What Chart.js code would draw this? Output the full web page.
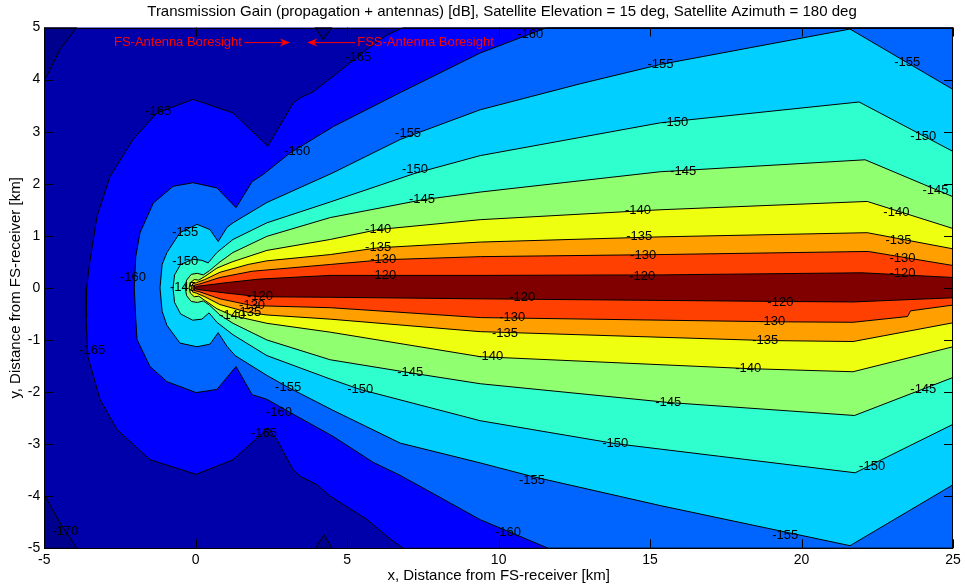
<!doctype html>
<html lang="en">
<head>
<meta charset="utf-8">
<title>Transmission Gain contour</title>
<script src="https://cdn.jsdelivr.net/npm/chart.js@4.4.0/dist/chart.umd.min.js"></script>
<style>
  html, body { margin: 0; padding: 0; background: #fff; }
</style>
</head>
<body>
<canvas id="plot" width="965" height="587"></canvas>
<script>
// contour levels (dB) and the jet-like band colours, lowest band first
const levels = [-165, -160, -155, -150, -145, -140, -135, -130, -120];
const bandColors = ['#00008F', '#0000AA', '#0000FF', '#0064FF', '#00CFFF', '#2FFFCF',
                    '#90FF70', '#EFFF10', '#FFA000', '#FF4000', '#800000'];
const xTickVals = [-5, 0, 5, 10, 15, 20, 25];
const yTickVals = [-5, -4, -3, -2, -1, 0, 1, 2, 3, 4, 5];

// contour lines, [x km, y km], upper and lower branch of each level
const up165 = [[-3.6,0],[-3.52,0.41],[-3.26,1.37],[-2.83,2.14],[-2.07,2.85],[-1.28,3.36],[-0.09,3.62],[1.23,3.36],[2.38,2.72],[3.23,3.56],[3.45,3.65],[3.89,3.77],[4.53,4.06],[5.65,4.58],[6.32,4.86],[6.85,5]];
const lo165 = [[-3.6,0],[-3.62,-0.6],[-3.56,-1.32],[-3.16,-2.14],[-2.6,-2.72],[-1.51,-3.3],[0.01,-3.58],[1.23,-3.3],[2.39,-2.69],[2.68,-2.91],[3.21,-3.49],[3.45,-3.62],[4.0,-3.78],[4.44,-4.0],[5.66,-4.45],[6.42,-4.82],[6.85,-5]];
const up160 = [[-2.03,0],[-1.98,0.6],[-1.84,1.06],[-1.4,1.63],[-0.75,1.95],[-0.09,2.02],[0.7,1.92],[1.33,1.54],[1.86,2.04],[2.23,2.18],[3.11,2.59],[4.55,3.1],[6.75,3.75],[9.39,4.51],[11.6,5]];
const lo160 = [[-2.03,0],[-1.98,-0.6],[-1.94,-0.99],[-1.51,-1.51],[-0.95,-1.8],[0.01,-2.01],[0.7,-1.95],[1.33,-1.51],[1.86,-2.05],[2.35,-2.14],[3.11,-2.39],[4.53,-2.85],[5.86,-3.35],[6.75,-3.6],[7.84,-3.95],[9.39,-4.45],[11.64,-5]];
const up155 = [[-1.18,0],[-1.11,0.45],[-0.95,0.68],[-0.52,1.06],[0.04,1.22],[0.47,1.12],[0.74,0.89],[1.03,1.16],[1.23,1.25],[2.35,1.64],[4.53,2.21],[6.75,2.85],[9.39,3.42],[12.7,3.92],[15.34,4.29],[21.6,4.97],[25,3.81]];
const lo155 = [[-1.18,0],[-1.11,-0.45],[-0.95,-0.72],[-0.52,-1.06],[0.04,-1.13],[0.47,-1.08],[0.74,-0.86],[1.03,-1.12],[1.3,-1.3],[2.35,-1.68],[3.05,-1.91],[4.53,-2.35],[6.75,-2.98],[9.39,-3.36],[11.1,-3.62],[15.34,-4.18],[21.6,-4.95],[25,-3.78]];
const up150 = [[-0.75,0],[-0.7,0.25],[-0.5,0.45],[-0.1,0.55],[0.2,0.53],[0.41,0.48],[0.7,0.68],[1.23,0.93],[2.35,1.25],[4.44,1.65],[7.24,2.2],[9.39,2.54],[15.34,3.17],[21.9,3.57],[25,2.62]];
const lo150 = [[-0.75,0],[-0.7,-0.28],[-0.5,-0.5],[-0.1,-0.62],[0.2,-0.6],[0.44,-0.48],[0.7,-0.66],[1.23,-0.9],[2.35,-1.3],[4.44,-1.75],[5.43,-1.95],[9.39,-2.55],[13.85,-2.99],[21.77,-3.55],[25,-2.62]];
const up145 = [[-0.35,0],[-0.3,0.15],[-0.15,0.26],[0.05,0.28],[0.25,0.25],[0.45,0.33],[0.8,0.5],[1.23,0.68],[2.35,0.99],[4.44,1.35],[7.47,1.69],[9.39,1.84],[15.33,2.23],[22.1,2.46],[25,1.75]];
const lo145 = [[-0.35,0],[-0.3,-0.15],[-0.15,-0.26],[0.05,-0.28],[0.25,-0.25],[0.45,-0.33],[0.8,-0.52],[1.23,-0.68],[2.35,-1.0],[4.44,-1.38],[7.08,-1.63],[9.39,-1.84],[15.6,-2.2],[21.75,-2.45],[25,-1.72]];
const up140 = [[-0.22,0],[-0.18,0.1],[-0.05,0.16],[0.1,0.15],[0.3,0.22],[0.7,0.38],[1.2,0.5],[2.35,0.72],[4.44,0.93],[6.02,1.12],[9.39,1.31],[15.33,1.5],[22.17,1.66],[25,1.14]];
const lo140 = [[-0.22,0],[-0.18,-0.1],[-0.05,-0.17],[0.1,-0.16],[0.3,-0.24],[0.7,-0.4],[1.2,-0.53],[2.35,-0.68],[4.44,-0.85],[9.39,-1.32],[18.24,-1.55],[21.7,-1.61],[25,-1.13]];
const up135 = [[-0.15,0],[-0.1,0.08],[0.02,0.1],[0.3,0.16],[0.8,0.3],[1.73,0.45],[2.35,0.52],[4.44,0.64],[6.02,0.77],[9.39,0.88],[15.33,0.98],[22.17,1.06],[25,0.75]];
const lo135 = [[-0.15,0],[-0.1,-0.08],[0.02,-0.1],[0.3,-0.17],[0.8,-0.32],[1.73,-0.47],[2.35,-0.52],[4.44,-0.6],[9.39,-0.84],[18.8,-1.01],[21.7,-1.03],[25,-0.67]];
const up130 = [[-0.1,0],[-0.05,0.05],[0.1,0.07],[0.8,0.2],[1.86,0.32],[4.44,0.45],[6.19,0.54],[9.39,0.6],[15.33,0.64],[22.2,0.7],[25,0.43]];
const lo130 = [[-0.1,0],[-0.05,-0.05],[0.1,-0.07],[0.8,-0.21],[1.86,-0.34],[4.44,-0.38],[9.39,-0.57],[19.03,-0.65],[21.7,-0.66],[23.5,-0.55],[23.6,-0.44],[25,-0.33]];
const up120 = [[-0.05,0],[0.05,0.03],[1.0,0.1],[2.12,0.17],[4.44,0.24],[9.39,0.24],[15.33,0.25],[22.0,0.29],[25,0.2]];
const lo120 = [[-0.05,0],[0.05,-0.03],[1.0,-0.1],[2.12,-0.17],[4.44,-0.18],[9.39,-0.21],[19.3,-0.26],[21.7,-0.27],[25,-0.19]];

// pockets below -170 dB (corners and two small notches at the edges)
const low170a = [[-5,5],[-5,4.0],[-4.91,4.08],[-4.48,4.58],[-3.93,5],[-5,5]];
const low170b = [[-5,-5],[-5,-3.97],[-4.48,-4.51],[-3.93,-5],[-5,-5]];
const low170c = [[3.94,5],[4.21,4.77],[4.5,5],[3.94,5]];
const low170d = [[3.94,-5],[4.24,-4.74],[4.5,-5],[3.94,-5]];

// clabel positions: [level, x, y]
const contourLabels = [
  [-165,-1.24,3.39],[-165,5.36,4.42],[-160,11.04,4.86],[-160,3.35,2.62],
  [-155,7.01,2.96],[-155,15.34,4.29],[-155,23.49,4.32],
  [-150,7.24,2.27],[-150,15.83,3.17],[-150,24.02,2.9],
  [-145,7.47,1.7],[-145,16.09,2.23],[-145,24.42,1.87],
  [-140,6.02,1.12],[-140,14.6,1.48],[-140,23.13,1.45],
  [-135,6.02,0.77],[-135,14.64,0.98],[-135,23.2,0.91],
  [-130,6.19,0.54],[-130,14.77,0.62],[-130,23.33,0.56],
  [-120,6.19,0.24],[-120,14.74,0.22],[-120,23.33,0.27],
  [-155,-0.35,1.06],[-150,-0.35,0.51],[-145,-0.42,0.0],[-160,-2.07,0.2],
  [-165,-3.42,-1.2],[-170,-4.31,-4.68],
  [-120,2.12,-0.17],[-130,1.86,-0.34],[-135,1.73,-0.47],[-140,1.2,-0.53],
  [-155,3.05,-1.91],[-160,2.75,-2.39],[-165,2.25,-2.8],
  [-150,5.43,-1.95],[-145,7.08,-1.63],[-140,9.72,-1.32],[-135,10.21,-0.88],
  [-130,10.45,-0.57],[-120,10.78,-0.19],
  [-160,10.31,-4.7],[-155,11.1,-3.7],[-150,13.85,-2.99],[-145,15.6,-2.2],
  [-140,18.24,-1.55],[-135,18.8,-1.01],[-130,19.03,-0.65],[-120,19.3,-0.28],
  [-155,19.46,-4.76],[-150,22.33,-3.43],[-145,24.02,-1.95]
];

const FONT = '"Liberation Sans", Arial, Helvetica, sans-serif';
const branches = [[up165, lo165], [up160, lo160], [up155, lo155], [up150, lo150], [up145, lo145],
                  [up140, lo140], [up135, lo135], [up130, lo130], [up120, lo120]];

// region above a level: upper branch back to the nose, lower branch out, then the right side
function region(up, lo) {
  const pts = up.slice().reverse().concat(lo.slice(1));
  if (lo[lo.length - 1][1] <= -5) pts.push([25, -5]);
  if (up[up.length - 1][1] >= 5) pts.push([25, 5]);
  pts.push(pts[0]);
  return pts;
}
function toXY(arr) { return arr.map(p => ({ x: p[0], y: p[1] })); }

const datasets = [];
[low170a, low170b, low170c, low170d].forEach(p => {
  datasets.push({ data: toXY(p), showLine: true, fill: 'shape', backgroundColor: bandColors[0],
    borderColor: '#000', borderWidth: 1, pointRadius: 0, tension: 0, order: 100 });
});
branches.forEach(([up, lo], i) => {
  datasets.push({ label: String(levels[i]), data: toXY(region(up, lo)), showLine: true, fill: 'shape',
    backgroundColor: bandColors[i + 2], borderColor: '#000', borderWidth: 1, pointRadius: 0,
    tension: 0, order: 50 - i });
});

const matlabAxes = {
  id: 'matlabAxes',
  beforeDraw(chart) {
    const { ctx, chartArea: a } = chart;
    ctx.save();
    ctx.fillStyle = bandColors[1];
    ctx.fillRect(a.left, a.top, a.right - a.left, a.bottom - a.top);
    ctx.restore();
  },
  afterDatasetsDraw(chart) {
    const { ctx, chartArea: a, scales: { x, y } } = chart;
    ctx.save();
    ctx.fillStyle = '#000';
    ctx.font = '13px ' + FONT;
    ctx.textAlign = 'center';
    ctx.textBaseline = 'middle';
    contourLabels.forEach(([v, lx, ly]) => {
      ctx.fillText(String(v), x.getPixelForValue(lx), y.getPixelForValue(ly));
    });

    // red boresight annotations
    const ay = y.getPixelForValue(4.71);
    ctx.fillStyle = '#FF0000';
    ctx.strokeStyle = '#FF0000';
    ctx.textAlign = 'left';
    ctx.fillText('FS-Antenna Boresight', x.getPixelForValue(-2.7), ay);
    ctx.fillText('FSS-Antenna Boresight', x.getPixelForValue(5.33), ay);
    const arrow = (fromX, toX) => {
      const x0 = x.getPixelForValue(fromX), x1 = x.getPixelForValue(toX);
      const d = Math.sign(x1 - x0);
      ctx.beginPath(); ctx.moveTo(x0, ay); ctx.lineTo(x1 - d * 6, ay); ctx.lineWidth = 1; ctx.stroke();
      ctx.beginPath(); ctx.moveTo(x1, ay); ctx.lineTo(x1 - d * 10, ay - 4); ctx.lineTo(x1 - d * 7, ay);
      ctx.lineTo(x1 - d * 10, ay + 4); ctx.closePath(); ctx.fill();
    };
    arrow(1.6, 3.11);
    arrow(5.26, 3.68);

    // box and inward ticks
    ctx.strokeStyle = '#000';
    ctx.lineWidth = 1;
    ctx.strokeRect(Math.round(a.left) + 0.5, Math.round(a.top) + 0.5,
      Math.round(a.right - a.left) - 1, Math.round(a.bottom - a.top) - 1);
    ctx.beginPath();
    xTickVals.forEach(v => {
      const px = Math.round(x.getPixelForValue(v)) + 0.5;
      ctx.moveTo(px, a.bottom); ctx.lineTo(px, a.bottom - 9);
      ctx.moveTo(px, a.top); ctx.lineTo(px, a.top + 9);
    });
    yTickVals.forEach(v => {
      const py = Math.round(y.getPixelForValue(v)) + 0.5;
      ctx.moveTo(a.left, py); ctx.lineTo(a.left + 9, py);
      ctx.moveTo(a.right, py); ctx.lineTo(a.right - 9, py);
    });
    ctx.stroke();

    ctx.fillStyle = '#000';
    ctx.font = '15px ' + FONT;
    ctx.textAlign = 'center';
    ctx.fillText('Transmission Gain (propagation + antennas) [dB], Satellite Elevation = 15 deg, Satellite Azimuth = 180 deg', 502, 12);
    ctx.restore();
  }
};

new Chart(document.getElementById('plot'), {
  type: 'scatter',
  data: { datasets },
  options: {
    responsive: false,
    animation: false,
    events: [],
    layout: { padding: { top: 27.5, right: 12, left: 0, bottom: 0 } },
    plugins: {
      legend: { display: false },
      tooltip: { enabled: false },
      filler: { drawTime: 'beforeDatasetsDraw', propagate: false }
    },
    scales: {
      x: {
        type: 'linear', min: -5, max: 25,
        afterFit: s => { s.height = 38.7; },
        afterBuildTicks: s => { s.ticks = xTickVals.map(v => ({ value: v })); },
        grid: { display: false, drawTicks: false },
        border: { display: false },
        ticks: { color: '#000', font: { family: FONT, size: 14 }, padding: 3, maxRotation: 0, autoSkip: false },
        title: { display: true, text: 'x, Distance from FS-receiver [km]', color: '#000',
                 font: { family: FONT, size: 15 }, padding: { top: 0, bottom: 2 } }
      },
      y: {
        type: 'linear', min: -5, max: 5,
        afterFit: s => { s.width = 44.3; },
        afterBuildTicks: s => { s.ticks = yTickVals.map(v => ({ value: v })); },
        grid: { display: false, drawTicks: false },
        border: { display: false },
        ticks: { color: '#000', font: { family: FONT, size: 14 }, padding: 4, autoSkip: false },
        title: { display: true, text: 'y, Distance from FS-receiver [km]', color: '#000',
                 font: { family: FONT, size: 15 }, padding: { top: 7, bottom: 0 } }
      }
    }
  },
  plugins: [matlabAxes]
});
</script>
</body>
</html>
